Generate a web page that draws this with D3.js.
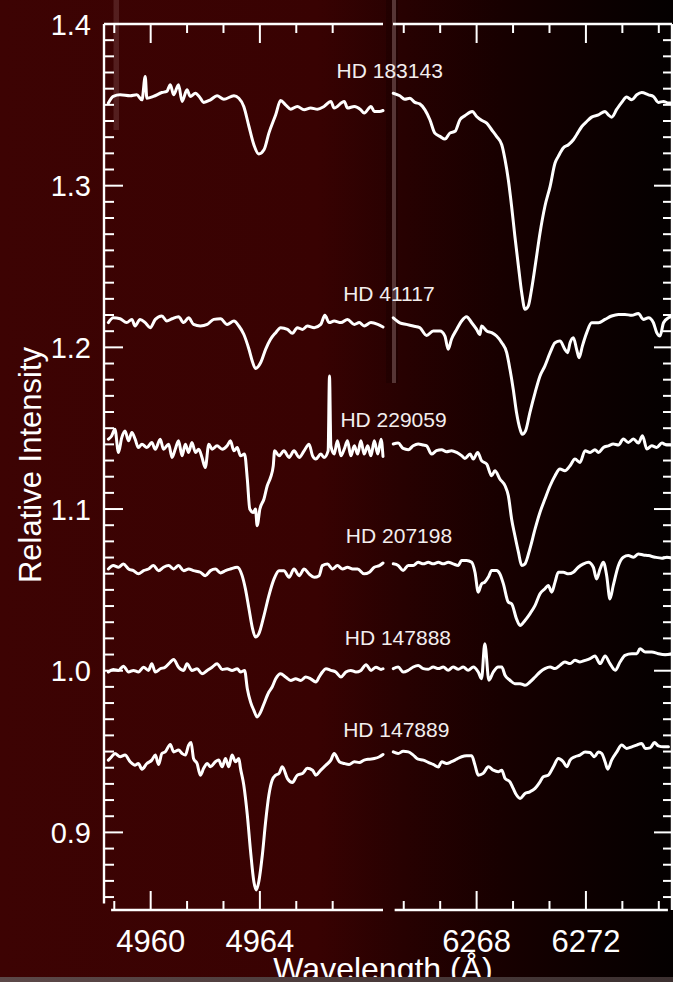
<!DOCTYPE html>
<html>
<head>
<meta charset="utf-8">
<script src="https://cdn.jsdelivr.net/npm/d3@7"></script>
<style>
  html, body { margin: 0; padding: 0; background: #000; }
  svg { display: block; }
</style>
</head>
<body>
<script>
// Normalised spectra around the 4964 Å and 6270 Å diffuse interstellar bands.
// Each point is [wavelength (Å), relative intensity]; spectra are offset vertically.

const hd183143Blue = [[4958.45,1.3511],[4958.63,1.3552],[4958.88,1.3562],[4959.25,1.3556],[4959.49,1.3562],[4959.68,1.3531],[4959.80,1.3675],[4959.86,1.3541],[4960.10,1.3552],[4960.41,1.3576],[4960.59,1.3583],[4960.72,1.3624],[4960.84,1.3562],[4961.02,1.3624],[4961.15,1.3521],[4961.33,1.3593],[4961.45,1.3552],[4961.64,1.3572],[4961.82,1.3541],[4961.94,1.3515],[4962.19,1.3531],[4962.43,1.3556],[4962.68,1.3535],[4963.05,1.3556],[4963.23,1.3541],[4963.41,1.3490],[4963.60,1.3366],[4963.78,1.3253],[4963.96,1.3196],[4964.15,1.3222],[4964.33,1.3325],[4964.58,1.3439],[4964.76,1.3527],[4964.94,1.3500],[4965.13,1.3473],[4965.37,1.3490],[4965.62,1.3469],[4965.86,1.3480],[4966.11,1.3473],[4966.35,1.3490],[4966.60,1.3521],[4966.72,1.3480],[4967.09,1.3521],[4967.21,1.3480],[4967.46,1.3490],[4967.70,1.3469],[4967.82,1.3449],[4968.07,1.3490],[4968.19,1.3459],[4968.38,1.3459],[4968.51,1.3465]];
const hd183143Red = [[6264.95,1.3572],[6265.19,1.3556],[6265.37,1.3535],[6265.56,1.3541],[6265.74,1.3515],[6265.92,1.3506],[6266.11,1.3469],[6266.29,1.3408],[6266.47,1.3325],[6266.66,1.3305],[6266.84,1.3288],[6267.02,1.3325],[6267.21,1.3336],[6267.39,1.3408],[6267.57,1.3432],[6267.84,1.3459],[6268.00,1.3428],[6268.18,1.3404],[6268.37,1.3387],[6268.55,1.3346],[6268.73,1.3305],[6268.92,1.3253],[6269.04,1.3161],[6269.16,1.3037],[6269.28,1.2873],[6269.40,1.2687],[6269.53,1.2502],[6269.65,1.2338],[6269.77,1.2235],[6269.89,1.2255],[6270.01,1.2358],[6270.16,1.2523],[6270.32,1.2708],[6270.50,1.2873],[6270.69,1.2996],[6270.87,1.3140],[6270.99,1.3181],[6271.17,1.3233],[6271.36,1.3253],[6271.54,1.3284],[6271.66,1.3315],[6271.85,1.3366],[6272.03,1.3397],[6272.21,1.3424],[6272.46,1.3438],[6272.70,1.3459],[6272.82,1.3438],[6272.94,1.3424],[6273.13,1.3473],[6273.31,1.3515],[6273.49,1.3548],[6273.68,1.3531],[6273.86,1.3562],[6274.04,1.3576],[6274.29,1.3562],[6274.47,1.3552],[6274.65,1.3515],[6274.84,1.3521],[6275.02,1.3511],[6275.14,1.3511]];

const hd41117Blue = [[4958.45,1.2153],[4958.63,1.2183],[4958.88,1.2177],[4959.12,1.2153],[4959.31,1.2173],[4959.43,1.2132],[4959.61,1.2173],[4959.80,1.2153],[4959.98,1.2122],[4960.17,1.2173],[4960.41,1.2194],[4960.59,1.2163],[4960.78,1.2177],[4961.02,1.2190],[4961.21,1.2153],[4961.39,1.2183],[4961.57,1.2142],[4961.82,1.2132],[4962.07,1.2142],[4962.31,1.2173],[4962.56,1.2177],[4962.80,1.2142],[4963.05,1.2163],[4963.23,1.2132],[4963.41,1.2081],[4963.60,1.1988],[4963.72,1.1916],[4963.84,1.1869],[4964.03,1.1906],[4964.21,1.1988],[4964.39,1.2050],[4964.58,1.2091],[4964.76,1.2122],[4965.01,1.2111],[4965.19,1.2087],[4965.37,1.2122],[4965.56,1.2111],[4965.74,1.2132],[4965.99,1.2122],[4966.23,1.2142],[4966.38,1.2198],[4966.54,1.2153],[4966.72,1.2163],[4966.97,1.2153],[4967.21,1.2173],[4967.46,1.2142],[4967.64,1.2153],[4967.82,1.2132],[4968.07,1.2153],[4968.32,1.2142],[4968.51,1.2126]];
const hd41117Red = [[6264.95,1.2183],[6265.19,1.2152],[6265.43,1.2142],[6265.68,1.2132],[6265.92,1.2122],[6266.17,1.2074],[6266.41,1.2101],[6266.66,1.2101],[6266.84,1.2070],[6266.96,1.1988],[6267.08,1.2050],[6267.27,1.2111],[6267.45,1.2163],[6267.63,1.2190],[6267.82,1.2152],[6268.00,1.2111],[6268.12,1.2080],[6268.18,1.2132],[6268.37,1.2101],[6268.55,1.2091],[6268.73,1.2070],[6268.92,1.2029],[6269.10,1.1967],[6269.22,1.1864],[6269.34,1.1741],[6269.46,1.1597],[6269.59,1.1494],[6269.67,1.1463],[6269.79,1.1484],[6269.95,1.1597],[6270.14,1.1720],[6270.32,1.1823],[6270.50,1.1885],[6270.69,1.1967],[6270.87,1.2029],[6271.05,1.2039],[6271.23,1.1988],[6271.33,1.1967],[6271.42,1.2029],[6271.54,1.2060],[6271.66,1.1988],[6271.75,1.1936],[6271.87,1.2008],[6272.03,1.2091],[6272.21,1.2152],[6272.46,1.2152],[6272.70,1.2173],[6272.94,1.2194],[6273.19,1.2204],[6273.43,1.2204],[6273.68,1.2198],[6273.92,1.2210],[6274.10,1.2173],[6274.29,1.2183],[6274.47,1.2152],[6274.59,1.2091],[6274.71,1.2070],[6274.84,1.2152],[6275.02,1.2183],[6275.14,1.2190]];

const hd229059Blue = [[4958.45,1.1432],[4958.57,1.1452],[4958.69,1.1494],[4958.82,1.1350],[4958.94,1.1442],[4959.06,1.1483],[4959.19,1.1422],[4959.31,1.1473],[4959.43,1.1432],[4959.55,1.1380],[4959.68,1.1401],[4959.86,1.1380],[4960.04,1.1411],[4960.17,1.1370],[4960.35,1.1432],[4960.47,1.1370],[4960.66,1.1401],[4960.78,1.1319],[4960.90,1.1370],[4961.02,1.1422],[4961.15,1.1329],[4961.27,1.1401],[4961.39,1.1350],[4961.51,1.1411],[4961.64,1.1350],[4961.76,1.1370],[4961.88,1.1319],[4962.00,1.1257],[4962.13,1.1401],[4962.25,1.1370],[4962.43,1.1391],[4962.62,1.1370],[4962.80,1.1391],[4962.92,1.1422],[4963.05,1.1360],[4963.17,1.1380],[4963.29,1.1329],[4963.44,1.1340],[4963.54,1.1185],[4963.63,1.1000],[4963.76,1.0979],[4963.84,1.1000],[4963.90,1.0897],[4964.00,1.1000],[4964.15,1.1062],[4964.27,1.1144],[4964.39,1.1195],[4964.49,1.1267],[4964.54,1.1360],[4964.70,1.1329],[4964.88,1.1360],[4965.07,1.1319],[4965.25,1.1360],[4965.44,1.1319],[4965.62,1.1360],[4965.80,1.1401],[4965.93,1.1329],[4966.05,1.1309],[4966.23,1.1340],[4966.35,1.1319],[4966.50,1.1360],[4966.55,1.1823],[4966.60,1.1391],[4966.72,1.1340],[4966.84,1.1422],[4966.97,1.1329],[4967.09,1.1370],[4967.21,1.1422],[4967.33,1.1329],[4967.46,1.1391],[4967.58,1.1340],[4967.70,1.1422],[4967.82,1.1340],[4967.95,1.1391],[4968.07,1.1329],[4968.19,1.1422],[4968.32,1.1340],[4968.44,1.1432],[4968.51,1.1325]];
const hd229059Red = [[6264.95,1.1402],[6265.13,1.1408],[6265.31,1.1375],[6265.50,1.1367],[6265.68,1.1391],[6265.86,1.1402],[6266.05,1.1396],[6266.17,1.1391],[6266.35,1.1340],[6266.53,1.1361],[6266.72,1.1367],[6266.90,1.1354],[6267.08,1.1361],[6267.27,1.1350],[6267.45,1.1330],[6267.57,1.1313],[6267.76,1.1340],[6267.88,1.1309],[6268.04,1.1350],[6268.18,1.1299],[6268.37,1.1278],[6268.55,1.1206],[6268.67,1.1237],[6268.85,1.1186],[6269.04,1.1144],[6269.16,1.1083],[6269.28,1.0939],[6269.40,1.0836],[6269.53,1.0733],[6269.65,1.0651],[6269.77,1.0661],[6269.95,1.0754],[6270.14,1.0877],[6270.32,1.0980],[6270.50,1.1062],[6270.69,1.1144],[6270.87,1.1206],[6271.05,1.1247],[6271.23,1.1237],[6271.42,1.1268],[6271.60,1.1309],[6271.78,1.1288],[6271.97,1.1361],[6272.15,1.1350],[6272.33,1.1367],[6272.46,1.1350],[6272.64,1.1381],[6272.82,1.1391],[6273.00,1.1402],[6273.19,1.1396],[6273.37,1.1433],[6273.55,1.1412],[6273.74,1.1433],[6273.92,1.1408],[6274.07,1.1453],[6274.23,1.1371],[6274.41,1.1391],[6274.59,1.1381],[6274.78,1.1408],[6274.96,1.1396],[6275.14,1.1396]];

const hd207198Blue = [[4958.45,1.0629],[4958.63,1.0650],[4958.82,1.0640],[4959.00,1.0660],[4959.19,1.0629],[4959.37,1.0619],[4959.55,1.0599],[4959.74,1.0619],[4959.92,1.0629],[4960.10,1.0650],[4960.29,1.0619],[4960.47,1.0640],[4960.66,1.0650],[4960.84,1.0629],[4961.02,1.0650],[4961.21,1.0619],[4961.39,1.0629],[4961.57,1.0619],[4961.82,1.0609],[4962.00,1.0588],[4962.19,1.0619],[4962.37,1.0629],[4962.56,1.0605],[4962.74,1.0619],[4962.92,1.0629],[4963.17,1.0640],[4963.35,1.0588],[4963.47,1.0506],[4963.60,1.0383],[4963.72,1.0269],[4963.84,1.0208],[4963.96,1.0228],[4964.15,1.0341],[4964.33,1.0465],[4964.52,1.0568],[4964.70,1.0619],[4964.88,1.0619],[4965.07,1.0578],[4965.25,1.0629],[4965.44,1.0588],[4965.62,1.0629],[4965.80,1.0599],[4965.99,1.0578],[4966.17,1.0588],[4966.29,1.0650],[4966.48,1.0660],[4966.66,1.0629],[4966.84,1.0650],[4967.03,1.0629],[4967.21,1.0640],[4967.40,1.0629],[4967.58,1.0629],[4967.82,1.0599],[4968.01,1.0609],[4968.19,1.0640],[4968.38,1.0650],[4968.51,1.0666]];
const hd207198Red = [[6264.95,1.0661],[6265.13,1.0651],[6265.31,1.0620],[6265.50,1.0651],[6265.68,1.0651],[6265.86,1.0671],[6266.05,1.0661],[6266.23,1.0671],[6266.41,1.0661],[6266.60,1.0671],[6266.78,1.0661],[6266.96,1.0671],[6267.14,1.0661],[6267.33,1.0651],[6267.45,1.0682],[6267.63,1.0682],[6267.82,1.0671],[6267.94,1.0609],[6268.06,1.0486],[6268.18,1.0537],[6268.30,1.0548],[6268.43,1.0579],[6268.55,1.0620],[6268.73,1.0620],[6268.85,1.0599],[6268.98,1.0537],[6269.16,1.0424],[6269.28,1.0414],[6269.46,1.0321],[6269.59,1.0280],[6269.77,1.0311],[6269.95,1.0352],[6270.14,1.0404],[6270.32,1.0476],[6270.50,1.0507],[6270.62,1.0527],[6270.75,1.0486],[6270.87,1.0548],[6270.99,1.0609],[6271.17,1.0609],[6271.36,1.0599],[6271.54,1.0609],[6271.72,1.0640],[6271.91,1.0661],[6272.09,1.0671],[6272.27,1.0640],[6272.39,1.0568],[6272.52,1.0630],[6272.64,1.0671],[6272.76,1.0588],[6272.88,1.0444],[6273.00,1.0527],[6273.19,1.0651],[6273.37,1.0702],[6273.55,1.0712],[6273.74,1.0702],[6273.92,1.0722],[6274.10,1.0716],[6274.29,1.0712],[6274.53,1.0702],[6274.78,1.0696],[6274.96,1.0702],[6275.14,1.0696]];

const hd147888Blue = [[4958.45,0.9992],[4958.63,1.0008],[4958.82,1.0002],[4959.00,1.0028],[4959.19,0.9992],[4959.37,1.0002],[4959.55,0.9992],[4959.74,1.0022],[4959.92,1.0002],[4960.04,1.0043],[4960.17,0.9992],[4960.35,1.0012],[4960.53,1.0022],[4960.72,1.0053],[4960.84,1.0070],[4961.02,1.0022],[4961.21,1.0002],[4961.33,1.0043],[4961.51,1.0002],[4961.70,1.0012],[4961.88,0.9981],[4962.07,1.0002],[4962.25,1.0022],[4962.43,1.0043],[4962.62,1.0008],[4962.80,1.0012],[4962.98,1.0002],[4963.17,1.0012],[4963.29,0.9992],[4963.44,1.0002],[4963.54,0.9889],[4963.66,0.9806],[4963.78,0.9755],[4963.90,0.9714],[4964.03,0.9745],[4964.15,0.9796],[4964.33,0.9868],[4964.45,0.9899],[4964.58,0.9950],[4964.76,0.9981],[4964.94,0.9961],[4965.13,0.9940],[4965.31,0.9950],[4965.50,0.9940],[4965.68,0.9961],[4965.86,0.9950],[4966.05,0.9930],[4966.17,0.9961],[4966.29,0.9992],[4966.42,1.0012],[4966.60,1.0002],[4966.78,0.9992],[4966.97,0.9961],[4967.15,0.9992],[4967.33,1.0002],[4967.52,0.9992],[4967.70,1.0002],[4967.89,1.0037],[4968.07,1.0002],[4968.25,1.0022],[4968.44,1.0008],[4968.51,1.0012]];
const hd147888Red = [[6264.95,1.0013],[6265.13,1.0023],[6265.31,0.9992],[6265.50,1.0003],[6265.68,1.0023],[6265.86,1.0033],[6266.05,1.0013],[6266.23,1.0009],[6266.41,1.0023],[6266.60,1.0013],[6266.78,1.0023],[6266.96,1.0003],[6267.14,1.0023],[6267.33,1.0009],[6267.51,1.0023],[6267.69,1.0003],[6267.88,1.0023],[6268.06,0.9992],[6268.18,0.9951],[6268.30,1.0167],[6268.45,0.9941],[6268.61,0.9992],[6268.79,1.0023],[6268.92,1.0023],[6269.04,0.9972],[6269.22,0.9941],[6269.40,0.9920],[6269.59,0.9920],[6269.77,0.9910],[6269.95,0.9930],[6270.14,0.9961],[6270.32,0.9992],[6270.50,1.0013],[6270.69,1.0023],[6270.87,1.0013],[6271.05,1.0033],[6271.23,1.0054],[6271.42,1.0044],[6271.60,1.0064],[6271.78,1.0054],[6271.97,1.0064],[6272.15,1.0075],[6272.33,1.0091],[6272.52,1.0044],[6272.70,1.0091],[6272.88,1.0044],[6273.07,1.0003],[6273.25,1.0054],[6273.43,1.0095],[6273.68,1.0105],[6273.86,1.0105],[6273.98,1.0136],[6274.17,1.0116],[6274.41,1.0116],[6274.65,1.0105],[6274.90,1.0099],[6275.14,1.0105]];

const hd147889Blue = [[4958.45,0.9447],[4958.57,0.9468],[4958.69,0.9488],[4958.88,0.9468],[4959.06,0.9478],[4959.25,0.9437],[4959.43,0.9416],[4959.55,0.9426],[4959.68,0.9391],[4959.86,0.9426],[4960.04,0.9447],[4960.17,0.9478],[4960.29,0.9420],[4960.41,0.9488],[4960.53,0.9498],[4960.72,0.9544],[4960.84,0.9498],[4961.02,0.9509],[4961.15,0.9488],[4961.27,0.9478],[4961.39,0.9540],[4961.48,0.9556],[4961.57,0.9457],[4961.70,0.9426],[4961.82,0.9354],[4961.94,0.9396],[4962.07,0.9426],[4962.19,0.9406],[4962.37,0.9437],[4962.49,0.9447],[4962.62,0.9406],[4962.74,0.9457],[4962.86,0.9406],[4962.98,0.9478],[4963.11,0.9437],[4963.23,0.9457],[4963.29,0.9396],[4963.41,0.9293],[4963.54,0.9107],[4963.66,0.8881],[4963.78,0.8695],[4963.87,0.8644],[4963.96,0.8695],[4964.09,0.8860],[4964.21,0.9066],[4964.33,0.9231],[4964.45,0.9323],[4964.58,0.9354],[4964.70,0.9364],[4964.82,0.9406],[4965.01,0.9333],[4965.19,0.9309],[4965.37,0.9354],[4965.56,0.9364],[4965.74,0.9396],[4965.93,0.9385],[4966.05,0.9354],[4966.23,0.9385],[4966.42,0.9416],[4966.60,0.9447],[4966.72,0.9488],[4966.91,0.9437],[4967.09,0.9426],[4967.27,0.9420],[4967.46,0.9437],[4967.64,0.9432],[4967.82,0.9447],[4968.01,0.9453],[4968.19,0.9457],[4968.38,0.9468],[4968.51,0.9482]];
const hd147889Red = [[6264.95,0.9498],[6265.13,0.9488],[6265.31,0.9502],[6265.50,0.9498],[6265.68,0.9478],[6265.86,0.9453],[6266.05,0.9447],[6266.23,0.9433],[6266.41,0.9420],[6266.60,0.9405],[6266.72,0.9437],[6266.90,0.9426],[6267.08,0.9437],[6267.27,0.9453],[6267.45,0.9468],[6267.63,0.9474],[6267.82,0.9474],[6267.94,0.9416],[6268.06,0.9354],[6268.24,0.9365],[6268.43,0.9406],[6268.61,0.9385],[6268.79,0.9375],[6268.92,0.9385],[6269.04,0.9334],[6269.22,0.9313],[6269.34,0.9272],[6269.46,0.9231],[6269.59,0.9210],[6269.77,0.9241],[6269.95,0.9251],[6270.14,0.9272],[6270.32,0.9313],[6270.44,0.9344],[6270.62,0.9354],[6270.81,0.9406],[6270.99,0.9457],[6271.17,0.9437],[6271.30,0.9406],[6271.42,0.9447],[6271.60,0.9468],[6271.78,0.9478],[6271.97,0.9498],[6272.15,0.9494],[6272.31,0.9468],[6272.46,0.9498],[6272.58,0.9488],[6272.70,0.9437],[6272.80,0.9391],[6272.94,0.9447],[6273.13,0.9498],[6273.31,0.9540],[6273.49,0.9519],[6273.68,0.9529],[6273.86,0.9540],[6274.04,0.9550],[6274.17,0.9519],[6274.35,0.9523],[6274.51,0.9556],[6274.65,0.9535],[6274.84,0.9529],[6275.02,0.9529]];

// Star names and where their labels sit (blue-panel wavelength, intensity at baseline)
const starNames = ["HD 183143", "HD 41117", "HD 229059", "HD 207198", "HD 147888", "HD 147889"];
const labelWave = [4966.81, 4967.05, 4966.95, 4967.15, 4967.11, 4967.05];
const labelLevel = [1.3666, 1.2287, 1.1507, 1.0787, 1.0156, 0.9593];
const blueSpectra = [hd183143Blue, hd41117Blue, hd229059Blue, hd207198Blue, hd147888Blue, hd147889Blue];
const redSpectra = [hd183143Red, hd41117Red, hd229059Red, hd207198Red, hd147888Red, hd147889Red];

// Axis ticks
const blueTicks = [4958 + 2 / 3, 4960, 4961 + 1 / 3, 4962 + 2 / 3, 4964, 4965 + 1 / 3, 4966 + 2 / 3];
const blueMajor = [4960, 4964];
const redTicks = [6265 + 1 / 3, 6266 + 2 / 3, 6268, 6269 + 1 / 3, 6270 + 2 / 3, 6272, 6273 + 1 / 3, 6274 + 2 / 3];
const redMajor = [6268, 6272];
const yMajor = [0.9, 1.0, 1.1, 1.2, 1.3, 1.4];
const yMinor = d3.range(86, 140).map(d => d / 100).filter(d => Math.round(d * 100) % 10 !== 0);

const W = 673, H = 982;
const FONT = "'Liberation Sans', Arial, Helvetica, sans-serif";

const xBlue = d3.scaleLinear().domain([4958.29, 4968.51]).range([104, 383]);
const xRed = d3.scaleLinear().domain([6264.94, 6275.15]).range([393, 672]);
const y = d3.scaleLinear().domain([0.852, 1.4]).range([910, 24]);

const svg = d3.select("body").append("svg")
  .attr("width", W).attr("height", H)
  .attr("viewBox", `0 0 ${W} ${H}`);

// Background: dark red fading to black towards the right
const defs = svg.append("defs");
const bg = defs.append("linearGradient").attr("id", "bg")
  .attr("x1", "0").attr("x2", "1").attr("y1", "0").attr("y2", "0");
[[0, "#3d0303"], [0.47, "#380202"], [0.6, "#270101"], [0.75, "#170000"], [0.9, "#0b0000"], [1, "#040000"]]
  .forEach(([o, c]) => bg.append("stop").attr("offset", o).attr("stop-color", c));
const bar = defs.append("linearGradient").attr("id", "bar")
  .attr("x1", "0").attr("x2", "1").attr("y1", "0").attr("y2", "0");
[[0, "#5c4848"], [1, "#3c3030"]]
  .forEach(([o, c]) => bar.append("stop").attr("offset", o).attr("stop-color", c));

svg.append("rect").attr("width", W).attr("height", H).attr("fill", "url(#bg)");

// Faint vertical streaks in the backdrop
svg.append("rect").attr("x", 113.5).attr("y", 0).attr("width", 5.5).attr("height", 130)
  .attr("fill", "#c8a0a0").attr("opacity", 0.18);
svg.append("rect").attr("x", 386).attr("y", 0).attr("width", 12).attr("height", 383)
  .attr("fill", "#000").attr("opacity", 0.18);
svg.append("rect").attr("x", 392).attr("y", 0).attr("width", 4).attr("height", 383)
  .attr("fill", "#d0b0b0").attr("opacity", 0.3);

// Spectra
const line = x => d3.line().x(d => x(d[0])).y(d => y(d[1])).curve(d3.curveMonotoneX);
const gLines = svg.append("g")
  .attr("fill", "none").attr("stroke", "#fff").attr("stroke-width", 3)
  .attr("stroke-linejoin", "round").attr("stroke-linecap", "round");
blueSpectra.forEach(s => gLines.append("path").attr("d", line(xBlue)(s)));
redSpectra.forEach(s => gLines.append("path").attr("d", line(xRed)(s)));

// Axes
const gAx = svg.append("g").attr("stroke", "#fff").attr("stroke-width", 2.4).attr("fill", "none");
const seg = (x1, y1, x2, y2, w) => gAx.append("line")
  .attr("x1", x1).attr("y1", y1).attr("x2", x2).attr("y2", y2)
  .attr("stroke-width", w || 2.4);

// frame lines
seg(xBlue(4958.29), y(1.4), xBlue(4968.51), y(1.4));
seg(xRed(6264.94), y(1.4), xRed(6275.15), y(1.4));
seg(xBlue(4958.29), y(1.4), xBlue(4958.29), y(0.856));
seg(xBlue(4958.55), y(0.852), xBlue(4968.51), y(0.852));
seg(xRed(6265.0), y(0.852), xRed(6275.0), y(0.852));
seg(xRed(6275.15), y(1.4), xRed(6275.15), y(0.852));

// x ticks, top and bottom
[[xBlue, blueTicks, blueMajor], [xRed, redTicks, redMajor]].forEach(([sc, ticks, major]) => {
  ticks.forEach(t => {
    const len = major.includes(t) ? 19 : 9;
    const px = sc(t);
    seg(px, y(1.4), px, y(1.4) + len, 2);
    seg(px, y(0.852), px, y(0.852) - len, 2);
  });
});

// y ticks, left and right
const xl = xBlue(4958.29), xr = xRed(6275.15);
yMajor.concat(yMinor).forEach(v => {
  const major = yMajor.includes(v);
  const py = y(v);
  seg(xl, py, xl + (major ? 19 : 10), py, 2);
  seg(xr, py, xr - (major ? 18 : 9), py, 2);
});

// Tick labels
const gTxt = svg.append("g").attr("fill", "#fff").attr("font-family", FONT);
yMajor.forEach(v => gTxt.append("text")
  .attr("x", xl - 13).attr("y", y(v) + 10.5)
  .attr("text-anchor", "end").attr("font-size", 29)
  .text(d3.format(".1f")(v)));
blueMajor.forEach(t => gTxt.append("text")
  .attr("x", xBlue(t)).attr("y", 952)
  .attr("text-anchor", "middle").attr("font-size", 31).text(t));
redMajor.forEach(t => gTxt.append("text")
  .attr("x", xRed(t)).attr("y", 952)
  .attr("text-anchor", "middle").attr("font-size", 31).text(t));

// Star labels
starNames.forEach((n, i) => gTxt.append("text")
  .attr("x", xBlue(labelWave[i])).attr("y", y(labelLevel[i]))
  .attr("font-size", 21).attr("fill", "#f3eeee").text(n));

// Axis titles
gTxt.append("text")
  .attr("transform", "translate(41,465) rotate(-90)")
  .attr("text-anchor", "middle").attr("font-size", 31)
  .text("Relative Intensity");
gTxt.append("text")
  .attr("x", 383).attr("y", 980)
  .attr("text-anchor", "middle").attr("font-size", 32)
  .text("Wavelength (Å)");

// Bottom strip
svg.append("rect").attr("x", 0).attr("y", 977).attr("width", W).attr("height", 5)
  .attr("fill", "url(#bar)");
</script>
</body>
</html>
